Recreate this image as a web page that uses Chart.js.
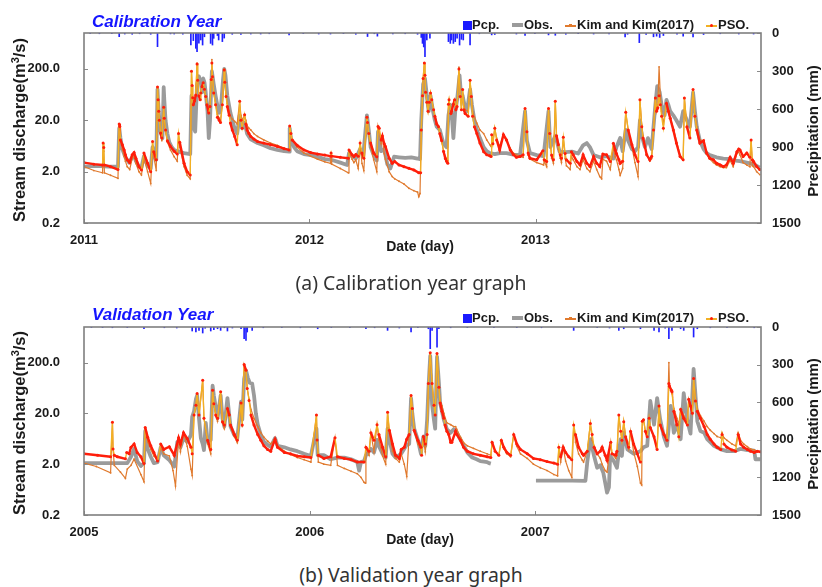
<!DOCTYPE html>
<html><head><meta charset="utf-8">
<script src="https://cdn.jsdelivr.net/npm/chart.js@4.4.0/dist/chart.umd.min.js"></script>
<style>
html,body{margin:0;padding:0;background:#fff;}
body{width:822px;height:587px;position:relative;overflow:hidden;font-family:"Liberation Sans",Arial,sans-serif;color:#1a1a1a;}
.panel{position:absolute;left:0;width:822px;height:260px;}
.panel canvas{position:absolute;left:0;top:0;}
.ptitle{position:absolute;left:92px;font:italic bold 17px "Liberation Sans",Arial,sans-serif;color:#1515ff;line-height:20px;white-space:nowrap;}
.lg{position:absolute;font:bold 13px "Liberation Sans",Arial,sans-serif;line-height:16px;white-space:nowrap;color:#1a1a1a;}
.mk{position:absolute;}
.ytl{position:absolute;width:260px;text-align:center;font:bold 15px "Liberation Sans",Arial,sans-serif;line-height:18px;transform:rotate(-90deg);white-space:nowrap;}
.xt{position:absolute;width:200px;text-align:center;font:bold 14px "Liberation Sans",Arial,sans-serif;line-height:16px;}
.cap{position:absolute;left:0;width:822px;text-align:center;font:19.4px "Noto Sans",sans-serif;color:#333;line-height:24px;}
</style></head>
<body>
<div class="panel" style="top:0"><canvas id="ca" width="822" height="260"></canvas></div>
<div class="panel" style="top:294px"><canvas id="cb" width="822" height="260"></canvas></div>
<div id="overlay"></div>
<script>
// ---------------- DATA: calibration years 2011-2013 (x = day since 1 Jan 2011) ----------------
const calYears = ['2011','2012','2013'];
const calYearDays = [0,365,731];
const calPcp = [[10,4],[25,6],[45,5],[57,29],[66,8],[78,10],[90,6],[108,10],[119,108],[140,7],[146,8],[160,9],[173,95],[177,60],[181,121],[183,147],[186,80],[189,55],[192,95],[195,30],[205,82],[208,95],[210,42],[216,20],[218,55],[224,68],[227,40],[240,10],[254,12],[270,8],[286,8],[300,6],[332,15],[355,5],[380,8],[399,8],[420,5],[440,10],[459,28],[470,6],[475,25],[500,7],[520,6],[540,10],[546,35],[548,82],[550,110],[552,187],[555,55],[560,40],[590,68],[593,82],[595,55],[598,82],[601,68],[604,40],[608,95],[611,50],[614,55],[625,95],[640,6],[660,15],[665,12],[700,8],[714,20],[730,5],[752,15],[763,18],[780,10],[800,6],[825,8],[850,8],[876,30],[880,10],[899,76],[910,12],[922,30],[927,25],[932,35],[938,20],[960,10],[970,25],[986,30],[1003,12],[1030,6],[1060,8],[1084,8]];
const calObs = [[0,2.5],[20,2.6],[40,2.5],[55,2.5],[57,14],[59,9],[62,5.5],[67,3.8],[73,3.0],[78,3.8],[81,4.2],[84,3.2],[89,2.5],[93,2.4],[97,4.0],[103,2.6],[108,2.3],[111,6],[113,4],[117,3.4],[119,80],[120,45],[122,20],[124,12],[127,9],[129,88],[130,50],[132,20],[135,11],[138,7.5],[142,6],[146,5.3],[151,5.0],[156,4.8],[162,4.6],[167,4.5],[172,4.4],[174,60],[176,30],[178,14],[180,12],[183,100],[186,144],[189,110],[191,70],[193,130],[195,110],[197,70],[200,30],[202,9],[204,20],[207,180],[210,100],[213,60],[216,38],[219,28],[222,40],[225,120],[227,200],[229,150],[232,60],[237,28],[243,15],[248,11],[252,25],[256,14],[260,18],[264,11],[270,8.5],[281,7.2],[291,6.5],[302,5.7],[313,5.3],[324,5.0],[332,4.9],[333,14],[335,9],[340,6],[345,5.0],[356,4.4],[367,4.2],[378,3.9],[390,3.5],[400,3.4],[415,3.0],[426,2.7],[429,4.6],[434,4.0],[440,3.6],[447,5.5],[452,4],[458,25],[461,13],[464,6],[469,4.2],[474,3.3],[476,12],[481,5],[486,5.5],[491,2.8],[496,2.3],[502,3.9],[510,3.8],[520,3.7],[530,3.8],[540,3.6],[544,3.5],[546,20],[549,100],[552,130],[555,60],[558,30],[561,60],[565,30],[568,20],[571,15],[576,13],[582,7],[587,6],[590,25],[593,40],[596,20],[598,9],[601,30],[604,50],[608,150],[610,70],[613,60],[616,40],[620,30],[625,80],[628,40],[632,20],[636,13],[641,9],[647,6],[652,5],[657,4.6],[665,4.4],[673,4.6],[684,4.6],[695,4.3],[706,4.2],[714,30],[717,8],[722,4.6],[733,4.2],[744,4.0],[752,30],[755,6],[763,10],[770,4.9],[780,4.8],[790,4.9],[800,4.5],[808,6.5],[814,7.2],[819,6],[825,4.2],[835,3.8],[846,4.0],[857,3.6],[862,6],[868,9],[872,5],[877,13],[881,8],[887,5.5],[892,5],[897,6],[900,20],[903,10],[908,6],[913,9],[916,7],[919,5.5],[922,15],[925,40],[928,92],[932,70],[935,40],[940,25],[943,50],[946,40],[949,30],[954,25],[959,20],[965,15],[970,30],[976,20],[981,15],[986,70],[989,30],[992,15],[997,8],[1003,5.5],[1008,4.6],[1013,4.2],[1024,3.8],[1035,3.6],[1046,3.5],[1051,3.3],[1062,3.2],[1073,3.0],[1084,2.8],[1094,2.4]];
const calKim = [[0,2.5],[16,2.1],[30,1.9],[31,7.2],[32,5.0],[33,1.9],[43,1.7],[55,1.48],[57,16.9],[58,14],[59,8],[62,5.5],[65,4.0],[67,3.2],[70,2.5],[74,2.2],[78,3.6],[81,4.0],[84,2.9],[89,2.0],[93,1.72],[97,3.6],[103,2.0],[108,1.18],[111,7.2],[113,3.9],[117,2.1],[119,89],[120,50],[121,30],[122,20],[124,12],[126,8],[129,34],[130,20],[132,12],[135,7.5],[140,5.3],[146,3.9],[151,3.2],[153,10.5],[155,6],[162,2.5],[167,1.7],[172,1.45],[174,180],[175,95],[176,55],[177,40],[179,48],[181,62],[183,260],[184,120],[186,60],[188,50],[189,68],[191,90],[193,107],[195,80],[197,58],[199,40],[202,28],[204,37],[206,124],[207,304],[208,150],[210,70],[213,42],[216,26],[219,22],[221,20],[224,40],[227,200],[228,120],[230,62],[232,42],[235,30],[237,24],[240,21],[244,19],[248,17],[252,47],[254,25],[256,20],[260,25.6],[262,20],[264,16],[267,14],[270,13],[275,11],[281,9.7],[291,8.3],[302,7.2],[313,6.5],[324,5.7],[332,5.3],[333,15.5],[335,11],[337,8.3],[345,6.0],[356,4.6],[367,4.0],[378,3.5],[390,3.1],[399,2.9],[400,3.6],[401,2.8],[415,2.3],[428,1.9],[429,5.0],[434,3.5],[437,3.0],[440,3.4],[444,2.3],[447,6.7],[450,2.9],[453,2.1],[458,23],[459,17],[461,10],[464,6],[469,3.4],[474,2.0],[476,15.2],[478,12],[481,7],[483,9.5],[486,4.5],[488,3.5],[494,2.0],[499,1.6],[503,1.45],[510,1.3],[518,1.15],[526,0.95],[534,0.85],[540,0.8],[542,0.65],[544,0.75],[546,13],[548,60],[549,130],[551,262],[552,150],[553,70],[555,45],[557,30],[559,45],[561,68],[563,50],[566,32],[568,24],[571,17],[574,14],[576,11],[579,8],[582,5],[585,3.9],[587,3.5],[589,3.3],[590,41],[591,50],[594,27],[595,30],[598,41],[600,50],[602,32],[604,37],[607,216],[609,58],[611,35],[613,79],[615,38],[617,32],[622,30],[625,120],[627,60],[629,30],[632,23],[636,17.6],[641,13],[647,11],[652,8.3],[657,6.7],[659,6.2],[660,10.5],[662,7.5],[665,14],[668,9],[673,6.2],[679,10.5],[684,8],[690,5.7],[695,4.6],[700,4.25],[706,3.94],[711,3.8],[714,34],[717,12],[719,4.2],[722,3.5],[733,3.0],[744,2.7],[745,3.2],[749,2.5],[752,34],[754,10],[757,3.65],[760,2.9],[763,47],[765,9],[768,5.5],[771,3.65],[773,3.0],[776,9.3],[779,3.6],[781,2.6],[787,2.2],[789,4.0],[792,3.4],[798,2.5],[803,2.2],[808,3.4],[814,2.3],[819,2.0],[825,3.2],[830,2.2],[835,1.6],[838,1.45],[840,3.5],[846,3.2],[852,2.2],[857,6],[860,3.9],[862,3.4],[866,2.2],[868,1.7],[872,2.3],[877,28.5],[881,13],[887,6],[892,3.0],[897,1.6],[900,50],[903,16],[905,10],[911,4.25],[916,3.2],[919,3.6],[922,13],[925,54],[927,30],[929,40],[931,220],[933,60],[935,30],[938,17],[943,43],[946,30],[949,22],[954,14],[959,8],[965,4.2],[970,3.4],[972,54],[976,16],[981,10],[986,79],[989,26],[992,15],[997,8.3],[1003,8],[1008,4.4],[1013,3.5],[1019,3.0],[1024,2.7],[1030,2.5],[1035,2.4],[1040,2.4],[1046,3.3],[1051,2.5],[1057,4.5],[1060,4.8],[1062,4.2],[1067,3.0],[1073,2.7],[1078,2.5],[1080,8.3],[1082,2.6],[1084,2.5],[1089,2.0],[1094,1.75]];
const calPso = [[0,3.0],[16,2.8],[30,2.7],[31,7.2],[32,5.9],[33,2.7],[43,2.5],[55,2.2],[57,16.9],[58,15.2],[59,8.3],[62,6.7],[65,5.3],[67,4.25],[70,3.4],[74,3.0],[78,4.25],[81,4.7],[84,3.65],[89,2.5],[93,2.16],[97,4.6],[103,2.9],[108,2.0],[111,7.7],[113,4.9],[117,3.4],[119,89],[120,50],[121,30],[122,20],[124,11.3],[126,9],[129,36],[130,22],[132,13],[135,8],[140,6.2],[146,5.0],[151,4.4],[153,11],[155,7.5],[162,2.9],[167,2.0],[172,1.72],[174,180],[175,95],[176,55],[177,40],[179,48],[181,62],[183,250],[184,120],[186,60],[188,50],[189,68],[191,90],[193,107],[195,80],[197,58],[199,40],[202,27.6],[204,37],[206,124],[207,262],[208,140],[210,68],[213,40],[216,23],[219,20],[221,18],[224,40],[227,190],[228,110],[230,58],[232,37],[235,25],[237,17.6],[240,13],[244,9.7],[248,6.7],[252,47],[254,20],[256,14],[260,25.6],[262,17],[264,13],[267,11],[270,9.7],[275,8.6],[281,7.7],[291,7.2],[302,6.7],[313,6.2],[324,5.6],[332,5.3],[333,15.5],[335,11],[337,8.3],[345,6.5],[356,5.3],[367,4.7],[378,4.4],[390,4.2],[399,4.0],[400,4.6],[401,4.0],[415,3.8],[428,3.65],[429,5.3],[434,4.25],[437,3.94],[440,4.3],[444,4.0],[447,7.2],[450,4.6],[453,3.65],[458,23],[459,18],[461,11],[464,7.2],[469,4.6],[474,3.9],[476,15.2],[478,14],[481,8.3],[483,9.9],[486,7],[488,6.2],[494,3.65],[499,2.92],[503,3.15],[510,2.7],[518,2.5],[526,2.32],[534,2.16],[542,1.9],[545,1.9],[546,13],[548,60],[549,130],[551,262],[552,150],[553,70],[555,45],[557,30],[559,45],[561,68],[563,50],[566,32],[568,24],[571,17],[574,15],[576,11],[579,8],[582,5],[585,3.6],[587,3.2],[589,2.9],[590,41],[591,50],[594,27],[595,30],[598,41],[600,50],[602,32],[604,37],[607,200],[609,58],[611,32],[613,79],[615,32],[617,27],[622,24],[625,120],[627,58],[629,24],[632,15],[636,11],[641,7.2],[647,4.9],[652,4.25],[657,4.06],[659,3.94],[660,10.5],[662,7],[665,14],[668,8.3],[673,5.3],[679,10.5],[684,8.3],[690,5.3],[695,4.3],[700,3.8],[706,3.94],[711,4.25],[714,34],[717,12],[719,4.6],[722,3.65],[733,3.4],[743,5.1],[745,3.4],[749,3.15],[752,34],[754,11],[757,4.2],[760,3.4],[763,47],[765,10],[768,6.7],[771,4.25],[773,3.65],[776,9.3],[779,4.5],[781,3.4],[787,2.9],[789,4.9],[792,4.25],[798,3.15],[803,2.7],[808,4.25],[814,2.92],[819,2.51],[825,3.94],[830,2.92],[835,2.51],[840,4.4],[846,4.25],[852,3.15],[857,7.1],[860,5.3],[862,4.5],[866,3.4],[868,2.9],[872,3.2],[877,28.5],[881,13],[887,6.7],[892,4.25],[897,3.15],[900,50],[903,15],[905,9],[911,4.25],[916,3.4],[919,4.0],[922,13],[925,54],[927,30],[929,35],[931,60],[933,40],[935,24],[938,14],[943,43],[946,30],[949,22],[954,13],[959,7.2],[965,3.94],[970,3.4],[972,54],[976,15],[981,9],[986,79],[989,24],[992,13],[997,7.2],[1003,8],[1008,4.6],[1013,3.65],[1019,3.39],[1024,2.92],[1030,2.7],[1035,2.51],[1040,2.7],[1046,3.8],[1051,2.92],[1057,4.9],[1060,5.5],[1062,5.3],[1067,3.94],[1073,4.6],[1078,3.8],[1080,8.3],[1082,3.4],[1084,3.15],[1089,2.51],[1094,2.2]];

// ---------------- DATA: validation years 2005-2007 (x = day since 1 Jan 2005) ----------------
const valYears = ['2005','2006','2007'];
const valYearDays = [0,365,730];
const valPcp = [[12,4],[30,5],[46,6],[70,5],[97,14],[130,6],[150,8],[175,32],[181,40],[186,27],[192,48],[196,10],[205,32],[210,21],[216,14],[221,27],[227,6],[232,32],[240,8],[254,14],[259,93],[262,107],[264,40],[272,27],[290,6],[320,5],[350,6],[378,14],[400,5],[430,6],[456,14],[470,6],[491,27],[510,8],[529,40],[540,6],[557,14],[560,173],[563,27],[571,160],[574,14],[593,6],[620,5],[663,6],[700,5],[740,6],[792,27],[830,6],[850,8],[865,27],[873,14],[900,14],[922,27],[930,40],[940,10],[946,93],[951,27],[965,14],[970,27],[986,80],[992,14],[1013,6],[1040,5],[1084,6]];
const valObs = [[0,2.1],[30,2.1],[60,2.1],[70,2.1],[76,2.8],[81,4.0],[86,2.3],[92,1.85],[97,2.1],[99,9],[103,4],[108,2.8],[113,2.1],[119,2.2],[124,4.3],[129,3.0],[138,2.4],[146,1.8],[151,5.5],[156,4.3],[161,6.5],[167,5.5],[173,7.5],[175,17],[178,22],[181,38],[183,45],[186,16],[189,6.5],[192,5],[194,3.8],[197,13],[200,5.5],[205,6],[208,70],[210,45],[216,16],[221,45],[224,16],[227,11],[232,40],[235,18],[237,11],[243,7.5],[248,6.5],[254,34],[256,15],[259,95],[262,140],[265,100],[268,80],[272,77],[275,45],[278,20],[281,12],[286,7.5],[291,5.5],[297,4.8],[302,4.4],[309,6.5],[313,4.6],[324,4.3],[334,3.9],[345,3.6],[356,3.2],[367,2.9],[376,10],[378,3.0],[388,3.0],[399,2.5],[410,2.7],[421,2.7],[432,2.5],[442,2.2],[445,1.5],[448,2.2],[453,2.3],[456,3.0],[464,4.0],[469,3.4],[474,6],[477,4.5],[483,3.2],[488,2.7],[491,10],[494,6],[499,3.2],[504,2.7],[513,3.2],[522,4.8],[526,5],[529,40],[531,20],[534,10],[540,6.0],[545,3.2],[546,4.6],[549,7.0],[552,4.6],[555,15],[557,58],[560,270],[563,30],[566,15],[568,10],[571,260],[574,80],[576,32],[582,15],[587,9.7],[593,8.3],[598,9.7],[603,8.3],[609,6],[620,3.4],[628,2.7],[635,2.5],[641,2.3],[647,2.25],[652,2.2],[655,2.1],[658,2.05],[659,null],[730,null],[731,0.95],[750,0.95],[770,0.95],[790,0.95],[811,0.94],[814,2.2],[819,6.2],[825,2.9],[830,1.7],[835,1.9],[840,1.35],[846,0.55],[849,0.7],[851,2.9],[857,2.3],[862,1.7],[865,3.4],[868,6.2],[870,2.9],[873,8.3],[879,3.9],[889,3.2],[900,3.6],[905,4.3],[911,4.6],[916,35],[922,12],[927,40],[932,15],[938,6.9],[943,4.6],[949,28],[954,8.3],[959,12],[965,6.2],[970,50],[976,14],[981,8],[986,150],[992,14],[997,9],[1003,8.3],[1008,6.2],[1013,5.4],[1019,4.6],[1030,3.9],[1040,3.6],[1051,3.6],[1062,4.0],[1073,3.8],[1084,3.7],[1086,2.5],[1094,2.5]];
const valKim = [[0,2.1],[20,1.8],[43,1.35],[46,13.4],[47,4],[49,1.9],[59,1.4],[67,1.05],[70,1.6],[76,1.9],[81,2.5],[92,1.25],[97,0.9],[99,10.5],[103,5.5],[108,3.9],[113,2.9],[119,2.4],[124,4.2],[129,3.2],[138,2.9],[144,1.5],[148,0.74],[153,6.6],[156,3.5],[161,8.3],[167,4.5],[173,1.6],[175,1.2],[178,18.5],[181,29],[183,49],[186,18.5],[192,90],[194,16],[200,5.0],[205,3.2],[208,57],[210,31],[213,18.5],[216,14],[221,53],[224,13],[227,10],[232,25],[235,17],[237,11],[243,7.0],[248,5.3],[254,32],[256,11],[259,182],[262,141],[264,62],[267,38],[270,24],[275,16],[281,11],[286,8.3],[291,6.8],[297,5.7],[302,5.0],[309,6.2],[313,4.6],[324,3.6],[334,3.1],[345,2.7],[356,2.45],[367,2.2],[376,18.5],[377,6],[379,2.2],[388,2.0],[399,1.9],[406,6.6],[410,1.9],[421,1.65],[432,1.45],[442,1.3],[448,1.1],[453,0.88],[455,0.85],[456,4.3],[461,3.0],[464,8.3],[469,3.5],[474,12],[477,6],[483,2.9],[488,2.0],[491,21],[494,8],[499,3.6],[504,2.6],[510,2.2],[513,3.2],[518,2.0],[522,1.15],[526,7.7],[529,45],[531,25],[534,9.3],[540,5.0],[545,3.9],[549,6],[552,3.5],[555,7.7],[557,77],[560,310],[563,77],[566,31],[568,20],[571,300],[574,65],[576,36],[579,28],[582,20],[587,13],[593,12],[598,11],[601,11],[603,9.7],[609,6.8],[614,5.3],[620,4.6],[630,4.1],[641,3.6],[652,3.2],[658,3.0],[660,5.4],[665,3.6],[671,3.0],[675,5.9],[679,4.0],[684,3.2],[690,2.8],[695,7.7],[700,4.5],[706,3.2],[717,2.6],[727,2.0],[738,1.7],[749,1.5],[760,1.25],[766,1.18],[768,4.3],[771,2.2],[775,4.3],[779,2.3],[784,1.5],[789,1.1],[792,11.8],[795,5.4],[800,3.2],[806,2.4],[808,2.2],[814,3.6],[819,12.6],[822,5.9],[825,4.6],[830,3.2],[835,2.6],[838,2.0],[843,1.5],[846,1.4],[852,5.4],[854,3.2],[860,2.6],[862,3.0],[865,18.5],[868,8.9],[870,5.9],[873,13.7],[876,6.9],[881,4.0],[884,8.9],[889,3.5],[895,1.8],[900,0.85],[902,0.78],[903,14],[905,15],[908,8.9],[911,7.5],[914,16],[916,10.5],[922,6.5],[927,4.3],[930,28],[932,12],[938,7.7],[943,5.9],[946,200],[947,68],[950,57],[951,53],[954,25],[959,16],[962,12],[965,24],[970,18],[976,14],[978,38],[981,28],[984,20],[986,97],[989,40],[992,25],[997,18],[1003,14],[1008,11],[1013,9.3],[1019,8],[1024,7],[1030,6.6],[1032,8.3],[1035,6.6],[1040,5.9],[1048,5.0],[1054,4.6],[1058,8.3],[1062,5.9],[1067,5.0],[1073,4.4],[1078,4.0],[1084,3.8],[1089,3.6],[1094,3.5]];
const valPso = [[0,3.2],[22,3.0],[43,2.8],[46,13.4],[47,4.0],[49,3.0],[54,2.8],[67,2.55],[69,3.4],[73,3.2],[76,4.3],[81,5.0],[86,3.4],[92,2.8],[97,2.06],[99,10.5],[103,6.8],[108,4.6],[113,3.4],[119,2.3],[124,5.0],[129,3.9],[138,4.4],[146,3.0],[153,6.6],[156,5.0],[161,8.3],[167,6.4],[173,4.3],[175,3.2],[178,18.5],[181,29],[183,49],[186,18.5],[192,90],[194,16],[200,5.9],[205,3.9],[208,57],[210,31],[213,18.5],[216,16],[221,53],[224,13.7],[227,11.8],[232,25],[235,18.5],[237,11.8],[243,7.7],[248,5.9],[254,32],[256,11.8],[259,182],[262,141],[264,62],[267,36],[270,18.5],[275,11.8],[281,7.7],[286,5.9],[291,4.6],[297,3.9],[302,3.6],[309,6.2],[313,4.3],[324,3.4],[334,3.2],[345,2.9],[356,2.8],[367,2.7],[376,18.5],[377,6],[379,3.0],[388,2.6],[399,2.8],[406,6.6],[410,2.8],[421,2.6],[432,2.45],[442,2.2],[453,2.2],[456,4.3],[461,3.6],[464,8.3],[469,5.9],[474,12],[477,7.7],[483,4.3],[488,2.8],[491,21],[494,9.3],[499,5.0],[504,3.0],[510,2.6],[513,3.9],[518,4.3],[522,6.2],[526,7.7],[529,45],[531,25],[534,9.3],[540,5.9],[545,4.3],[546,3.0],[549,7.0],[552,5.0],[555,7.7],[557,77],[560,310],[563,77],[566,29],[568,18.5],[571,300],[574,65],[576,32],[579,22],[582,16],[584,11.8],[587,8.9],[590,7.7],[593,5.4],[595,5.4],[601,8.9],[603,7.7],[609,5.9],[614,4.3],[620,3.6],[630,3.2],[641,3.0],[652,2.8],[658,2.7],[660,5.4],[665,3.6],[671,3.0],[675,5.9],[679,4.3],[684,3.4],[690,3.0],[695,7.7],[700,5.0],[706,3.9],[717,3.2],[727,2.6],[738,2.45],[749,2.25],[760,2.1],[766,2.0],[768,4.3],[771,2.8],[775,4.3],[779,3.4],[784,2.8],[789,2.45],[792,11.8],[795,7.7],[800,4.3],[806,3.2],[808,3.0],[814,3.6],[819,12.6],[822,7.7],[825,4.3],[830,3.2],[835,3.6],[838,4.3],[843,3.0],[846,2.4],[852,5.4],[854,3.2],[860,3.0],[862,3.6],[865,18.5],[868,8.9],[870,5.9],[873,13.7],[876,6.9],[881,4.3],[884,8.9],[889,5.0],[895,3.2],[900,2.2],[903,14],[905,15],[908,8.9],[911,6.9],[914,16],[916,10.5],[922,6.9],[927,3.9],[930,28],[932,11.8],[938,7.7],[943,5.9],[946,77],[947,68],[950,57],[951,53],[954,22],[959,11.8],[962,6.9],[965,24],[970,16],[976,11.8],[978,38],[981,28],[984,20],[986,97],[989,35],[992,22],[997,16],[1003,11],[1008,7.7],[1013,6.2],[1019,5.0],[1024,4.3],[1030,3.9],[1032,7.7],[1035,5.0],[1040,4.3],[1048,3.8],[1054,3.6],[1058,7.7],[1062,5.0],[1067,4.3],[1073,3.9],[1078,3.6],[1084,3.4],[1089,3.6],[1094,3.5]];

const qTicks = [0.2, 2, 20, 200];
const pTicks = [0, 300, 600, 900, 1200, 1500];

// ---------------- RENDER ----------------
const toXY = arr => arr.map(p => ({x: p[0], y: p[1]}));
const FONT = '"Liberation Sans", Arial, sans-serif';
const GOLD = '#f2b024', RED = '#ff1e0a';
// PSO daily dots merge into a red line on gentle slopes; steep jumps show the gold connecting line
const gentle = c => {
  const y0 = c.p0.parsed.y, y1 = c.p1.parsed.y, dx = Math.max(1, c.p1.parsed.x - c.p0.parsed.x);
  return Math.abs(Math.log10(y1 / y0)) / dx < 0.06;
};

const framePlugin = {
  id: 'frame',
  afterDatasetsDraw(chart) {
    const {ctx, chartArea: a, scales} = chart;
    ctx.save();
    ctx.strokeStyle = '#8a8a8a';
    ctx.lineWidth = 1;
    ctx.beginPath();
    scales.x.ticks.forEach(t => { const px = Math.round(scales.x.getPixelForValue(t.value)) + 0.5; ctx.moveTo(px, a.bottom); ctx.lineTo(px, a.bottom - 4); });
    scales.y.ticks.forEach(t => { const py = Math.round(scales.y.getPixelForValue(t.value)) + 0.5; ctx.moveTo(a.left, py); ctx.lineTo(a.left + 4, py); });
    scales.y2.ticks.forEach(t => { const py = Math.round(scales.y2.getPixelForValue(t.value)) + 0.5; ctx.moveTo(a.right, py); ctx.lineTo(a.right - 4, py); });
    ctx.stroke();
    ctx.lineWidth = 1.6;
    ctx.strokeStyle = '#7f7f7f';
    ctx.strokeRect(a.left, a.top, a.right - a.left, a.bottom - a.top);
    ctx.restore();
  }
};

function makeChart(id, pcp, obs, kim, pso, yearDays, yearLabels, xMax, xHeight) {
  return new Chart(document.getElementById(id), {
    type: 'line',
    data: {
      datasets: [
        {type: 'bar', label: 'Pcp.', data: toXY(pcp), yAxisID: 'y2', backgroundColor: '#2020ff', barThickness: 1, order: 4},
        {label: 'Obs.', data: toXY(obs), yAxisID: 'y', borderColor: '#9b9b9b', borderWidth: 3.8, pointRadius: 0, borderJoinStyle: 'round', spanGaps: false, order: 3},
        {label: 'Kim and Kim(2017)', data: toXY(kim), yAxisID: 'y', borderColor: '#e07a2e', borderWidth: 1.2, pointRadius: 0.9, pointBackgroundColor: '#e07a2e', pointBorderWidth: 0, order: 2},
        {label: 'PSO.', data: toXY(pso), yAxisID: 'y', borderColor: GOLD, borderWidth: 1.3, pointRadius: 1.5, pointBackgroundColor: RED, pointBorderWidth: 0, order: 1,
         segment: {borderColor: c => gentle(c) ? RED : GOLD, borderWidth: c => gentle(c) ? 2.4 : 1.3}}
      ]
    },
    options: {
      responsive: false, animation: false, devicePixelRatio: 1,
      layout: {padding: {top: 33, left: 0, right: 0, bottom: 0}},
      plugins: {legend: {display: false}, tooltip: {enabled: false}},
      scales: {
        x: {
          type: 'linear', min: 0, max: xMax, offset: false,
          grid: {display: false}, border: {display: false},
          afterBuildTicks: s => { s.ticks = yearDays.map(v => ({value: v})); },
          afterFit: s => { s.height = xHeight; },
          ticks: {autoSkip: false, maxRotation: 0, padding: 2, color: '#1a1a1a', font: {family: FONT, size: 13, weight: 'bold'},
                  callback: v => yearLabels[yearDays.indexOf(v)]}
        },
        y: {
          type: 'logarithmic', position: 'left', min: 0.2, max: 1000,
          grid: {display: false}, border: {display: false},
          afterBuildTicks: s => { s.ticks = qTicks.map(v => ({value: v})); },
          afterFit: s => { s.width = 84; },
          ticks: {autoSkip: false, padding: 16, color: '#1a1a1a', font: {family: FONT, size: 13, weight: 'bold'},
                  callback: v => Number(v).toFixed(1)}
        },
        y2: {
          type: 'linear', position: 'right', min: 0, max: 1500, reverse: true,
          grid: {display: false}, border: {display: false},
          afterBuildTicks: s => { s.ticks = pTicks.map(v => ({value: v})); },
          afterFit: s => { s.width = 61; },
          ticks: {autoSkip: false, padding: 3, color: '#1a1a1a', font: {family: FONT, size: 13, weight: 'bold'},
                  callback: v => String(v)}
        }
      }
    },
    plugins: [framePlugin]
  });
}

makeChart('ca', calPcp, calObs, calKim, calPso, calYearDays, calYears, 1096, 37);
makeChart('cb', valPcp, valObs, valKim, valPso, valYearDays, valYears, 1095, 39);

// ---------------- TEXT OVERLAYS ----------------
function overlay(dy, title, caption, capTop) {
  const o = document.getElementById('overlay');
  const h = [];
  h.push(`<div class="ptitle" style="top:${dy + 12}px">${title}</div>`);
  const ly = dy + 25;
  h.push(`<div class="mk" style="left:463px;top:${ly - 4}px;width:9px;height:9px;background:#1a1aff"></div>`);
  h.push(`<div class="lg" style="left:472px;top:${ly - 8}px">Pcp.</div>`);
  h.push(`<div class="mk" style="left:512px;top:${ly - 2}px;width:11px;height:4px;background:#9b9b9b"></div>`);
  h.push(`<div class="lg" style="left:524px;top:${ly - 8}px">Obs.</div>`);
  h.push(`<div class="mk" style="left:565px;top:${ly}px;width:11px;height:1.5px;background:#e07a2e"></div>`);
  h.push(`<div class="mk" style="left:569px;top:${ly - 1}px;width:3px;height:3px;background:#e07a2e"></div>`);
  h.push(`<div class="lg" style="left:577px;top:${ly - 8}px">Kim and Kim(2017)</div>`);
  h.push(`<div class="mk" style="left:706px;top:${ly}px;width:11px;height:1.5px;background:${GOLD}"></div>`);
  h.push(`<div class="mk" style="left:710px;top:${ly - 1}px;width:3px;height:3px;border-radius:50%;background:${RED}"></div>`);
  h.push(`<div class="lg" style="left:718px;top:${ly - 8}px">PSO.</div>`);
  h.push(`<div class="ytl" style="left:${19 - 130}px;top:${dy + 130 - 9}px;font-size:16.5px">Stream discharge(m<sup style="font-size:11px;line-height:0">3</sup>/s)</div>`);
  h.push(`<div class="ytl" style="left:${813 - 130}px;top:${dy + 131 - 9}px">Precipitation (mm)</div>`);
  h.push(`<div class="xt" style="left:320px;top:${dy + 246 - 8}px">Date (day)</div>`);
  h.push(`<div class="cap" style="top:${capTop - 12}px">${caption}</div>`);
  o.insertAdjacentHTML('beforeend', h.join(''));
}
overlay(0, 'Calibration Year', '(a) Calibration year graph', 283);
overlay(293, 'Validation Year', '(b) Validation year graph', 575);
</script>
</body></html>
